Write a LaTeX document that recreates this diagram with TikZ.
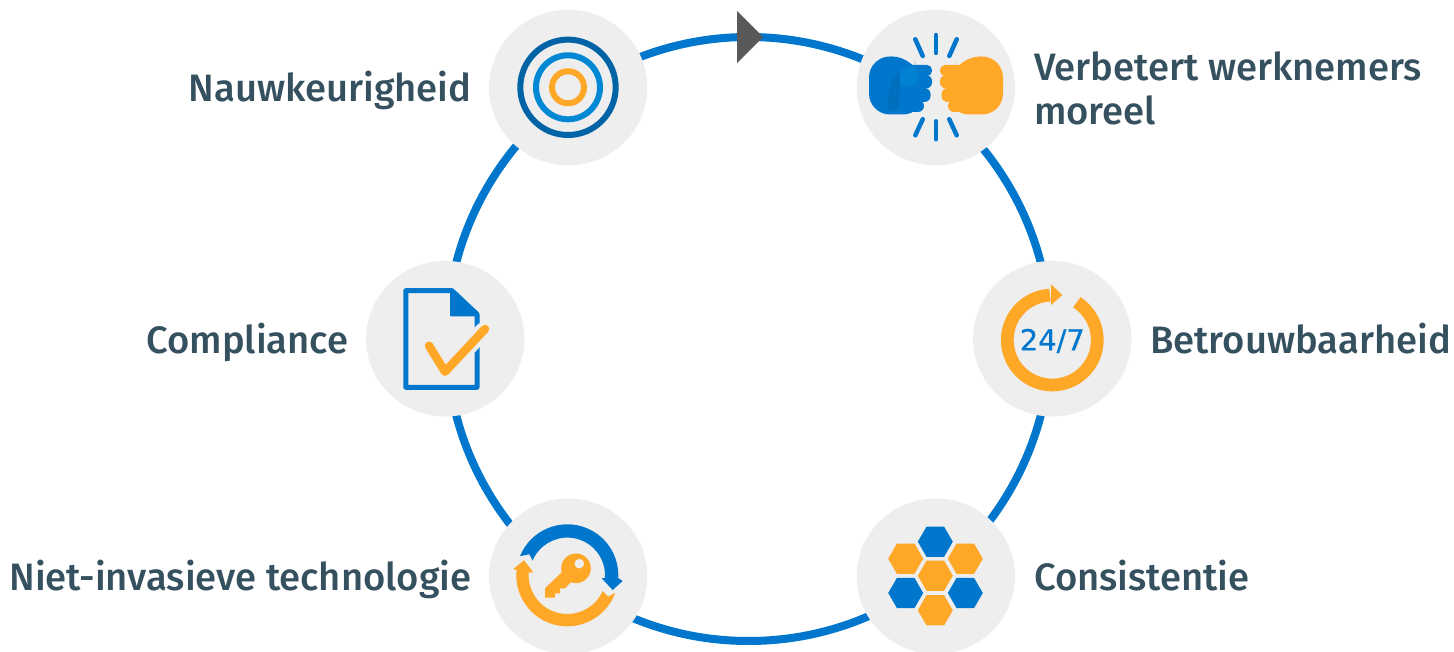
\documentclass[tikz,border=0pt]{standalone}
\usepackage{fontspec}
\setmainfont{Fira Sans Medium}
\newfontfamily\clockfont[FakeBold=0.5]{DejaVu Sans}
\usetikzlibrary{shapes.geometric, calc}
\definecolor{ringblue}{HTML}{0077CC}
\definecolor{darkblue}{HTML}{0063A6}
\definecolor{midblue}{HTML}{0088D4}
\definecolor{amber}{HTML}{FFA726}
\definecolor{discgrey}{HTML}{EEEEEE}
\definecolor{slate}{HTML}{35505F}
\definecolor{pointer}{HTML}{595959}
\newcommand{\drawfist}[1]{
    \fill[#1, rounded corners=21] (869, -56.5) -- (913, -56.5) -- (922, -80) -- (924, -114.5) -- (869, -114.5) -- cycle;
    \fill[#1, rounded corners=5] (905, -65) rectangle (932, -76);
    \fill[#1, rounded corners=6] (905, -75) rectangle (932, -88.5);
    \fill[#1, rounded corners=6] (905, -88) rectangle (930.5, -102);
    \fill[#1, rounded corners=6] (897, -100) rectangle (924, -112);
}
\begin{document}
\begin{tikzpicture}[x=1pt, y=1pt]
    \tikzstyle{ring} = [draw=ringblue, circle, line width=8, minimum size=604, inner sep=0, outer sep=0]
    \tikzstyle{disc} = [fill=discgrey, ellipse, minimum width=158.3, minimum height=155.6, inner sep=0, outer sep=0]
    \tikzstyle{target} = [line width=6]
    \tikzstyle{spark} = [ringblue, line width=4.5, line cap=round]
    \tikzstyle{hexcell} = [regular polygon, regular polygon sides=6, minimum size=35, inner sep=0]
    \tikzstyle{lbl} = [text=slate, inner sep=0, font=\fontsize{38.2}{44}\selectfont]
    \useasboundingbox (0, 0) rectangle (1454, -652);
    \node[ring] (loop) at (748.5, -339) {};
    \fill[pointer] (737, -11) -- (763, -37) -- (737, -63) -- cycle;
    \node[disc] (accuracy) at (568.2, -87.5) {};
    \node[disc] (morale) at (935.8, -87.5) {};
    \node[disc] (reliability) at (1052.2, -338.7) {};
    \node[disc] (consistency) at (935.8, -576.3) {};
    \node[disc] (noninvasive) at (568.2, -576.3) {};
    \node[disc] (compliance) at (445.2, -338.7) {};
    \node[lbl, anchor=base east] (accuracy-l) at (471.5, -102) {Nauwkeurigheid};
    \node[lbl, anchor=base west, align=left] (morale-l) at (1034, -124.5) {Verbetert werknemers\\moreel};
    \node[lbl, anchor=base west] (reliability-l) at (1150, -353.5) {Betrouwbaarheid};
    \node[lbl, anchor=base west] (consistency-l) at (1034, -590.5) {Consistentie};
    \node[lbl, anchor=base east] (noninvasive-l) at (471.5, -590.5) {Niet-invasieve technologie};
    \node[lbl, anchor=base east] (compliance-l) at (348.5, -353.5) {Compliance};
    \draw[target, darkblue] (568, -87.3) circle (47.7);
    \draw[target, midblue] (568, -87.3) circle (32);
    \draw[target, amber] (568, -87.3) circle (16);
    \drawfist{ringblue}
    \fill[black!7!ringblue, rounded corners=6] (890, -84) -- (900, -70) -- (899, -112) -- (886, -110) -- cycle;
    \fill[black!0!midblue!60!ringblue, rounded corners=5] (900, -70) -- (914, -65) -- (920, -77) -- (915, -86) -- (900, -87) -- cycle;
    \begin{scope}[shift={(1872, 0)}, xscale=-1]
        \drawfist{amber}
    \end{scope}
    \draw[spark] (936, -35) -- (936, -53);
    \draw[spark] (915.3, -39.3) -- (922.7, -56);
    \draw[spark] (956.7, -39.3) -- (949.3, -56);
    \draw[spark] (936, -121.3) -- (936, -139.3);
    \draw[spark] (922.7, -119.3) -- (915.3, -135.3);
    \draw[spark] (949.3, -119.3) -- (956.7, -135.3);
    \draw[amber, line width=12.7] (1052.3, -340) ++(57:45) arc[start angle=57, end angle=-267, radius=45];
    \fill[amber] (1051, -284.3) -- (1062.3, -295) -- (1051, -305) -- cycle;
    \node[ringblue, font=\clockfont\fontsize{29}{30}\selectfont, inner sep=0] (clock) at (1052.3, -341) {24/7};
    \node[hexcell, fill=ringblue] (hex-a) at (935.3, -541.7) {};
    \node[hexcell, fill=amber] (hex-b) at (905.7, -558.7) {};
    \node[hexcell, fill=amber] (hex-c) at (965.3, -558.7) {};
    \node[hexcell, fill=amber] (hex-d) at (935.3, -575.7) {};
    \node[hexcell, fill=ringblue] (hex-e) at (905.7, -593) {};
    \node[hexcell, fill=ringblue] (hex-f) at (965.3, -593) {};
    \node[hexcell, fill=amber] (hex-g) at (935.3, -610.3) {};
    \coordinate (keymid) at (567.3, -575.3);
    \fill[ringblue] ($(keymid) + (158:51)$) arc[start angle=158, end angle=-3, radius=51] -- (622.7, -581) -- (612.7, -590) -- (601.7, -578.3) -- ($(keymid) + (-4:37.7)$) arc[start angle=-4, end angle=157, radius=37.7] -- ($(keymid) + (151:43.4)$) -- cycle;
    \fill[amber] ($(keymid) + (174:51)$) arc[start angle=174, end angle=340, radius=51] -- ($(keymid) + (-27.5:46.2)$) -- ($(keymid) + (-24:38.7)$) arc[start angle=-24, end angle=-184, radius=38.7] -- (533.3, -572.3) -- (524, -560.3) -- (513.3, -569) -- cycle;
    \fill[amber] (561.7, -572.3) -- (545, -588.3) -- (545, -597.7) -- (555, -597.7) -- (555, -593.3) -- (560, -593.3) -- (560, -588.3) -- (565, -588.3) -- (571, -582) -- cycle;
    \fill[amber] (576, -568.3) circle (14.8);
    \fill[discgrey] (579.3, -563.7) circle (4.8);
    \draw[ringblue, line width=5, line join=round] (451.7, -290.7) -- (405.8, -290.7) -- (405.8, -387.3) -- (477, -387.3) -- (477, -314.3) -- cycle;
    \fill[ringblue, rounded corners=1] (450, -288.5) -- (450, -316.5) -- (479, -316.5) -- (479, -313) -- (453, -288.5) -- cycle;
    \draw[discgrey, line width=17] (445, -371.7) -- (485, -329);
    \draw[amber, line width=8.5, line cap=round, line join=round] (429, -345.7) -- (445, -371.7) -- (485, -329);
\end{tikzpicture}
\end{document}
